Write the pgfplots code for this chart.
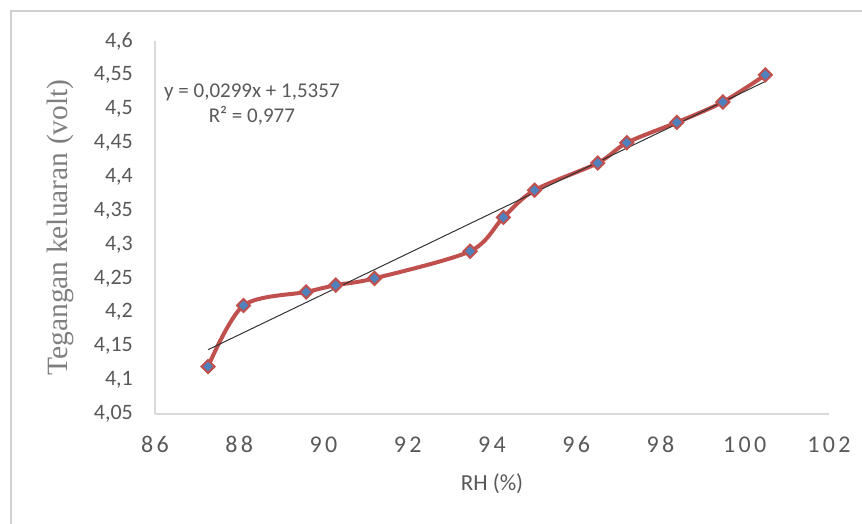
\documentclass[border=0pt]{standalone}
\usepackage{pgfplots}
\pgfplotsset{compat=1.18}
\usepackage{fontspec}
\setmainfont{Carlito}
\newfontfamily\serifl{Liberation Serif}
\newfontfamily\tickx[LetterSpace=14]{Carlito}
\definecolor{lred}{HTML}{C0504D}
\definecolor{lblue}{HTML}{4F81BD}
\definecolor{tgray}{HTML}{595959}
\definecolor{lgray}{HTML}{7F7F7F}
\definecolor{agray}{HTML}{D9D9D9}
\definecolor{frame}{HTML}{D0D0D0}
\begin{document}
\begin{tikzpicture}[x=1bp,y=1bp]
\useasboundingbox (0,0) rectangle (862,524);
\draw[color=frame, line width=1.5bp] (11,-5) -- (11,513) -- (870,513);
\begin{axis}[
  at={(155bp,110bp)}, anchor=south west,
  scale only axis, width=674bp, height=373bp,
  xmin=86, xmax=102, ymin=4.05, ymax=4.6,
  xtick={86,88,90,92,94,96,98,100,102},
  ytick={4.05,4.1,4.15,4.2,4.25,4.3,4.35,4.4,4.45,4.5,4.55,4.6},
  axis x line*=bottom, axis y line*=left,
  axis line style={agray, line width=1.5bp, -},
  tick style={draw=none},
  /pgf/number format/.cd, use comma, fixed, precision=2, assume math mode=true,
  /pgfplots/.cd,
  xticklabel style={font=\tickx\fontsize{24bp}{28bp}\selectfont, text=tgray, anchor=base, yshift=-39bp},
  yticklabel style={font=\fontsize{22bp}{26bp}\selectfont, text=tgray, anchor=east, inner sep=0pt, xshift=-22bp},
  xlabel={RH (\%)},
  xlabel style={font=\fontsize{23bp}{27bp}\selectfont, text=tgray, at={(axis description cs:0.5,0)}, anchor=center, yshift=-70bp},
  ylabel={Tegangan keluaran (volt)},
  ylabel style={font=\serifl\fontsize{29.5bp}{33bp}\selectfont, text=lgray, at={(axis description cs:-0.141,0.5)}, anchor=center},
  clip=false,
]
\addplot[lred, line width=4bp, smooth, tension=0.5, mark=square*, mark size=4.6bp,
  mark options={rotate=45, fill=lblue, draw=lred, line width=2bp, solid}]
  coordinates {
  (87.26,4.12) (88.10,4.21) (89.59,4.23) (90.29,4.24) (91.21,4.25)
  (93.48,4.29) (94.27,4.34) (95.01,4.38) (96.51,4.42) (97.20,4.45)
  (98.39,4.48) (99.48,4.51) (100.49,4.55)
  };
\addplot[color=black!80, line width=1bp] coordinates {(87.26,4.1448) (100.49,4.5404)};
\node[font=\fontsize{21bp}{25bp}\selectfont, text=tgray, align=center] at (axis cs:88.30,4.506)
  {y = 0,0299x + 1,5357\\R² = 0,977};
\end{axis}
\end{tikzpicture}
\end{document}
